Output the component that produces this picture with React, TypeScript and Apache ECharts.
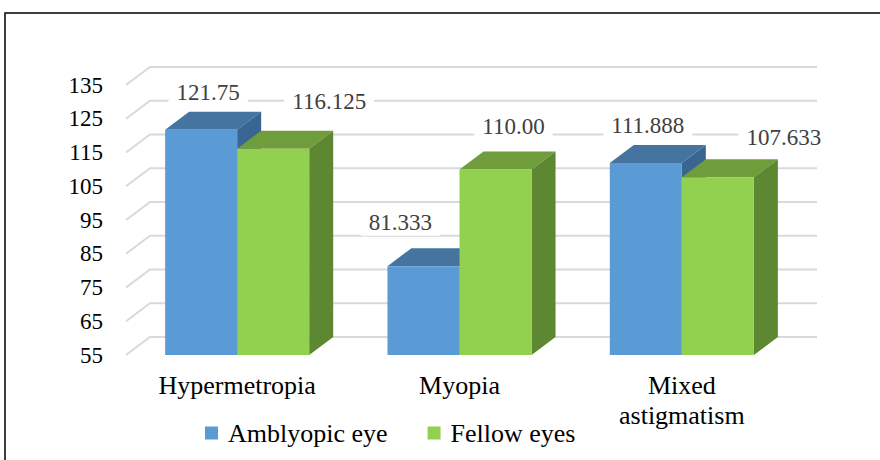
import React, { useEffect, useRef } from "react";
import * as echarts from "echarts";

const categories = ["Hypermetropia", "Myopia", "Mixed astigmatism"];
const seriesNames = ["Amblyopic eye", "Fellow eyes"];
const amblyopic = [121.75, 81.333, 111.888];
const fellow = [116.125, 110.0, 107.633];
const amblyopicText = ["121.75", "81.333", "111.888"];
const fellowText = ["116.125", "110.00", "107.633"];
const yMin = 55;
const yMax = 135;
const yStep = 10;

// label nudges [dx, dy] relative to front-top centre of each bar (series-major)
const labelShift = [
  [[7, -37], [-23, -44], [2, -38]],
  [[56, -47], [18, -43], [66, -40]],
];

const FONT = "Times New Roman";
const DX = 24;
const DY = -18;
const faceColors = [
  { front: "#5B9BD5", top: "#44749F", side: "#386591" },
  { front: "#92D050", top: "#6F9D3B", side: "#5E8731" },
];

export default function App() {
  const ref = useRef<HTMLDivElement>(null);
  useEffect(() => {
    document.body.style.margin = "0";
    const chart = echarts.init(ref.current!, null, { renderer: "svg" });
    const values = [amblyopic, fellow];
    const texts = [amblyopicText, fellowText];
    const ticks: number[] = [];
    for (let v = yMin; v <= yMax + 1e-9; v += yStep) ticks.push(v);

    const barSeries = values.map((vals, s) => ({
      type: "custom",
      name: seriesNames[s],
      z: 3,
      itemStyle: { color: faceColors[s].front },
      data: vals.map((v, i) => [i, v]),
      renderItem: (params: any, api: any) => {
        const idx = api.value(0);
        const val = api.value(1);
        const top = api.coord([idx, val]);
        const base = api.coord([idx, yMin]);
        const band = api.size([1, 0])[0];
        const w = band * 0.324;
        const x0 = top[0] - w + s * w;
        const x1 = x0 + w;
        const yT = top[1];
        const yB = base[1];
        const c = faceColors[s];
        return {
          type: "group",
          children: [
            {
              type: "polygon",
              shape: { points: [[x0, yT], [x1, yT], [x1 + DX, yT + DY], [x0 + DX, yT + DY]] },
              style: { fill: c.top },
            },
            {
              type: "polygon",
              shape: { points: [[x1, yT], [x1 + DX, yT + DY], [x1 + DX, yB + DY], [x1, yB]] },
              style: { fill: c.side },
            },
            {
              type: "rect",
              shape: { x: x0, y: yT, width: w, height: yB - yT },
              style: { fill: c.front },
            },
          ],
        };
      },
    }));

    const labelData: number[][] = [];
    values.forEach((vals, s) => vals.forEach((v, i) => labelData.push([i, v, s])));

    const labelSeries = {
      type: "custom",
      name: "labels",
      z: 5,
      silent: true,
      data: labelData,
      renderItem: (params: any, api: any) => {
        const idx = api.value(0);
        const val = api.value(1);
        const s = api.value(2);
        const top = api.coord([idx, val]);
        const band = api.size([1, 0])[0];
        const w = band * 0.324;
        const cx = top[0] - w + s * w + w / 2;
        const sh = labelShift[s][idx];
        return {
          type: "text",
          x: cx + sh[0],
          y: top[1] + sh[1],
          style: {
            text: texts[s][idx],
            fontSize: 23,
            fontFamily: FONT,
            fill: "#404040",
            align: "center",
            verticalAlign: "middle",
            backgroundColor: "#fff",
            padding: [2, 8],
          },
        };
      },
    };

    const gridSeries = {
      type: "custom",
      name: "grid",
      z: 1,
      silent: true,
      data: ticks.map((t) => [0, t]),
      renderItem: (params: any, api: any) => {
        const v = api.value(1);
        const band = api.size([1, 0])[0];
        const p0 = api.coord([0, v]);
        const p2 = api.coord([categories.length - 1, v]);
        const left = p0[0] - band / 2;
        const right = p2[0] + band / 2;
        const y = p0[1];
        return {
          type: "polyline",
          shape: { points: [[left, y], [left + DX, y + DY], [right + DX, y + DY]] },
          style: { stroke: "#D9D9D9", lineWidth: 2, fill: null },
        };
      },
    };

    chart.setOption({
      animation: false,
      textStyle: { fontFamily: FONT },
      grid: { left: 126, right: 87, top: 85, bottom: 105 },
      legend: {
        data: seriesNames,
        left: 200,
        top: 415,
        icon: "rect",
        itemWidth: 13,
        itemHeight: 13,
        itemGap: 40,
        textStyle: { fontSize: 26, fontFamily: FONT, color: "#000", padding: [0, 0, 0, 5] },
      },
      xAxis: {
        type: "category",
        data: categories,
        axisLine: { show: false },
        axisTick: { show: false },
        splitLine: { show: false },
        axisLabel: {
          interval: 0,
          margin: 15,
          fontSize: 26,
          fontFamily: FONT,
          color: "#000",
          lineHeight: 30,
          formatter: (v: string) => v.replace(" ", "\n"),
        },
      },
      yAxis: {
        type: "value",
        min: yMin,
        max: yMax,
        interval: yStep,
        axisLine: { show: false },
        axisTick: { show: false },
        splitLine: { show: false },
        axisLabel: { fontSize: 23, fontFamily: FONT, color: "#000", margin: 23 },
      },
      graphic: [
        {
          type: "rect",
          shape: { x: 5, y: 13, width: 900, height: 480 },
          style: { stroke: "#000", lineWidth: 1.5, fill: null },
          silent: true,
        },
      ],
      series: [gridSeries, ...barSeries, labelSeries],
    });
    return () => chart.dispose();
  }, []);
  return <div ref={ref} style={{ width: 880, height: 460 }} />;
}
